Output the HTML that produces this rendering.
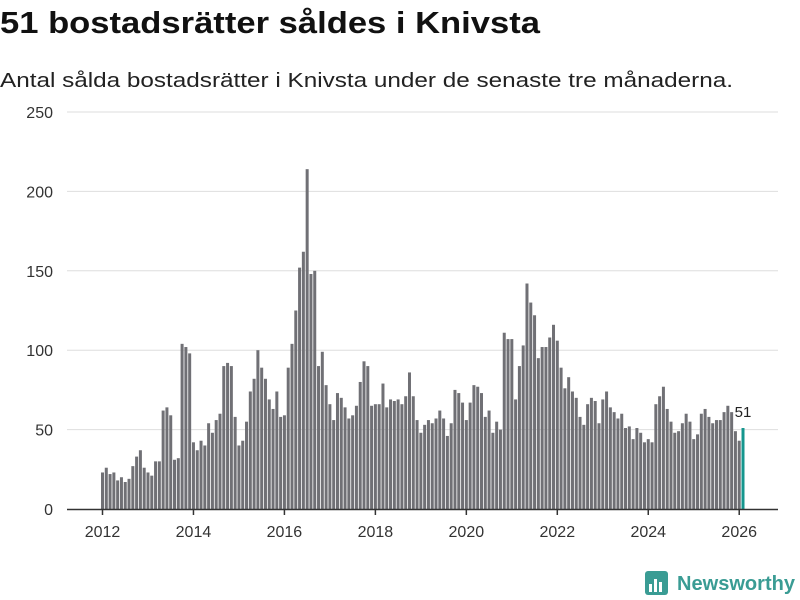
<!DOCTYPE html>
<html><head><meta charset="utf-8"><style>
html,body{margin:0;padding:0;background:#fff;}
svg{display:block;font-family:"Liberation Sans",sans-serif;}
</style></head><body>
<svg id="chart" width="800" height="600" viewBox="0 0 800 600">
<text x="0" y="33" font-size="31" font-weight="bold" fill="#111" textLength="540" lengthAdjust="spacingAndGlyphs">51 bostadsrätter såldes i Knivsta</text>
<text x="0" y="87" font-size="20" fill="#222" textLength="733" lengthAdjust="spacingAndGlyphs">Antal sålda bostadsrätter i Knivsta under de senaste tre månaderna.</text>
<g id="grid"></g>
<g id="bars"></g>
<g id="xaxis"></g>
<g>
<rect x="645" y="571" width="23" height="24" rx="3" fill="#3a9c94"/>
<rect x="649" y="584" width="3" height="8" fill="#fff"/><rect x="654" y="579" width="3" height="13" fill="#fff"/><rect x="659" y="582" width="3" height="10" fill="#fff"/>
<text x="677" y="590" font-size="20" font-weight="bold" fill="#3a9c94" textLength="118" lengthAdjust="spacingAndGlyphs">Newsworthy</text>
</g>
</svg>
<script>
const values = [23,26,22,23,18,20,17,19,27,33,37,26,
23,21,30,30,62,64,59,31,32,104,102,98,
42,37,43,40,54,48,56,60,90,92,90,58,
40,43,55,74,82,100,89,82,69,63,74,58,
59,89,104,125,152,162,214,148,150,90,99,78,
66,56,73,70,64,57,59,65,80,93,90,65,
66,66,79,64,69,68,69,66,71,86,71,56,
48,53,56,54,57,62,57,46,54,75,73,67,
56,67,78,77,73,58,62,48,55,50,111,107,
107,69,90,103,142,130,122,95,102,102,108,116,
106,89,76,83,74,70,58,53,66,70,68,54,
69,74,64,61,57,60,51,52,44,51,48,42,
44,42,66,71,77,63,55,48,49,54,60,55,
44,47,60,63,58,54,56,56,61,65,61,49,
43,51];
const startYear = 2012;
const yTicks = [0,50,100,150,200,250];
const xTickYears = [2012,2014,2016,2018,2020,2022,2024,2026];
const lastLabel = "51";

const NS = "http://www.w3.org/2000/svg";
const y0 = 509, yMax = 250, yTop = 112;
const y = v => y0 - v * (y0 - yTop) / yMax;
const step = 3.79, x0 = 101, bw = 3.0;
const x = i => x0 + step * i;
function mk(tag, attrs, parent) { const e = document.createElementNS(NS, tag); for (const k in attrs) e.setAttribute(k, attrs[k]); parent.appendChild(e); return e; }

const grid = document.getElementById('grid');
yTicks.forEach(t => {
  if (t > 0) {
    const l = mk('line', {x1: 67, x2: 778, y1: y(t), y2: y(t), stroke: '#dedede', 'stroke-width': 1}, grid);
    
    
  }
  const tx = mk('text', {x: 53, y: y(t) + 6, 'font-size': 16, fill: '#333', 'text-anchor': 'end'}, grid);
  tx.textContent = t;
  
  
});

const bars = document.getElementById('bars');
values.forEach((v, i) => {
  const last = i === values.length - 1;
  const r = mk('rect', {x: x(i), y: y(v), width: bw, height: y0 - y(v), fill: last ? '#15968e' : '#707075'}, bars);
  
  
});
const li = values.length - 1;
const lab = mk('text', {x: x(li) + 1.5, y: y(values[li]) - 11, 'font-size': 15, fill: '#222', 'text-anchor': 'middle'}, bars);
lab.textContent = lastLabel;



const xa = document.getElementById('xaxis');
const al = mk('line', {x1: 67, x2: 778, y1: y0 + 0.5, y2: y0 + 0.5, stroke: '#333', 'stroke-width': 1.5}, xa);


xTickYears.forEach(yr => {
  const cx = x((yr - startYear) * 12) + bw / 2;
  const tk = mk('line', {x1: cx, x2: cx, y1: y0, y2: y0 + 6, stroke: '#333', 'stroke-width': 1.5}, xa);
  
  
  const t = mk('text', {x: cx, y: 537, 'font-size': 16, fill: '#333', 'text-anchor': 'middle'}, xa);
  t.textContent = yr;
  
  
});
</script>
</body></html>
